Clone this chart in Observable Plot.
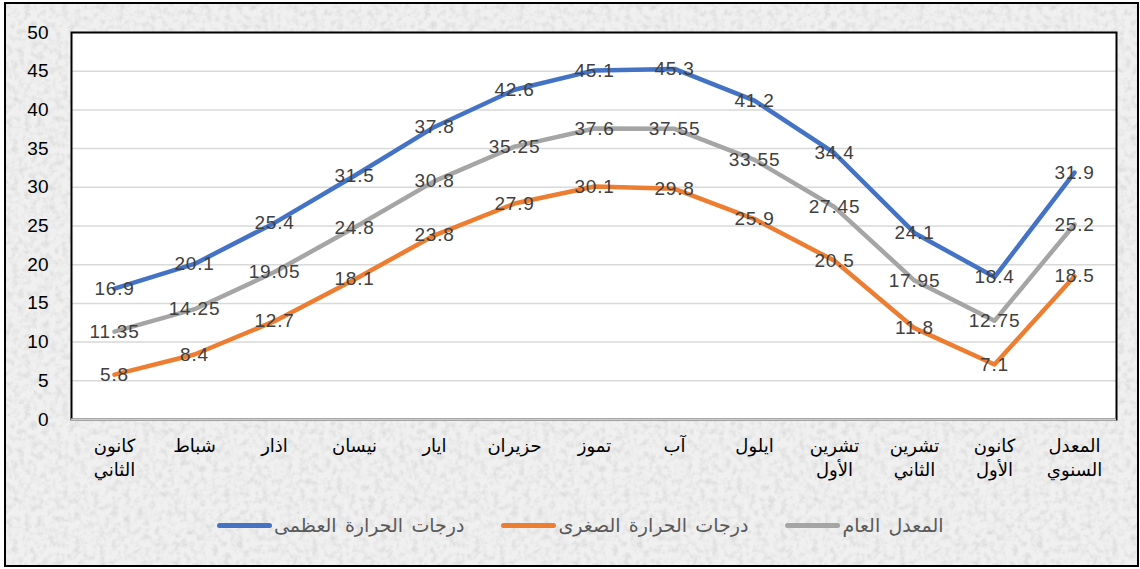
<!DOCTYPE html>
<html>
<head>
<meta charset="utf-8">
<script src="https://cdn.jsdelivr.net/npm/d3@7"></script>
<script src="https://cdn.jsdelivr.net/npm/@observablehq/plot@0.6"></script>
<style>
  html, body { margin: 0; padding: 0; background: #fff; }
  #wrap { position: relative; width: 1140px; height: 569px; overflow: hidden; }
  #box {
    position: absolute; left: 4px; top: 2px; width: 1131px; height: 561px;
    border: 2px solid #000;
    background-color: #f0f0f0;
    background-image: url("data:image/svg+xml;utf8,<svg xmlns='http://www.w3.org/2000/svg' width='400' height='400'><filter id='n'><feTurbulence type='fractalNoise' baseFrequency='0.16' numOctaves='3' seed='4'/><feColorMatrix values='0 0 0 0 0.6  0 0 0 0 0.6  0 0 0 0 0.6  1.2 0 0 0 -0.5'/></filter><rect width='100%' height='100%' filter='url(%23n)'/></svg>");
  }
  #chart { position: absolute; left: 0; top: 0; }
  #legend {
    position: absolute; left: 217px; top: 514px; width: 800px;
    display: flex; flex-direction: row; align-items: center; gap: 37px;
    font-family: "Liberation Sans", "DejaVu Sans", sans-serif; font-size: 19px; color: #595959;
  }
  .item { display: flex; align-items: center; gap: 2px; }
  .sw { width: 55px; height: 5px; border-radius: 3px; }
  .lab { direction: rtl; white-space: nowrap; word-spacing: 3px; }
  .vlab { letter-spacing: 0.8px; }
</style>
</head>
<body>
<div id="wrap">
  <div id="box"></div>
  <div id="chart"></div>
  <div id="legend"></div>
</div>
<script>
const months = ["كانون\nالثاني","شباط","اذار","نيسان","ايار","حزيران","تموز","آب","ايلول","تشرين\nالأول","تشرين\nالثاني","كانون\nالأول","المعدل\nالسنوي"];
const maxTemp = [16.9, 20.1, 25.4, 31.5, 37.8, 42.6, 45.1, 45.3, 41.2, 34.4, 24.1, 18.4, 31.9];
const minTemp = [5.8, 8.4, 12.7, 18.1, 23.8, 27.9, 30.1, 29.8, 25.9, 20.5, 11.8, 7.1, 18.5];
const meanTemp = [11.35, 14.25, 19.05, 24.8, 30.8, 35.25, 37.6, 37.55, 33.55, 27.45, 17.95, 12.75, 25.2];
const seriesNames = ["درجات الحرارة العظمى", "درجات الحرارة الصغرى", "المعدل العام"];
const seriesColors = ["#4472C4", "#ED7D31", "#A5A5A5"];
const yTicks = [0, 5, 10, 15, 20, 25, 30, 35, 40, 45, 50];

const seriesValues = [maxTemp, minTemp, meanTemp];
const rows = [];
seriesValues.forEach((vals, si) => {
  vals.forEach((v, i) => rows.push({month: months[i], value: v, series: seriesNames[si]}));
});

const chart = Plot.plot({
  width: 1140,
  height: 500,
  marginLeft: 71,
  marginRight: 24,
  marginTop: 32,
  marginBottom: 81,
  style: {background: "transparent", fontFamily: "'Liberation Sans', 'DejaVu Sans', sans-serif", overflow: "visible"},
  x: {type: "point", domain: months, padding: 0.5},
  y: {domain: [0, 50]},
  color: {domain: seriesNames, range: seriesColors},
  marks: [
    Plot.frame({fill: "white", stroke: null}),
    Plot.gridY(yTicks, {stroke: "#d9d9d9", strokeOpacity: 1, strokeWidth: 1.5}),
    Plot.frame({stroke: "#000", strokeWidth: 2, fill: null}),
    Plot.ruleY([0], {stroke: "#d0d0d0", strokeWidth: 2}),
    Plot.line(rows, {x: "month", y: "value", z: "series", stroke: "series", strokeWidth: 4.5, curve: "linear", strokeLinecap: "round", strokeLinejoin: "round"}),
    Plot.text(rows, {x: "month", y: "value", text: d => String(d.value), fill: "#404040", fontSize: 19, className: "vlab"}),
    Plot.axisY(yTicks, {tickSize: 0, tickPadding: 23, fontSize: 19, fill: "#000", label: null}),
    Plot.axisX({tickSize: 0, tickPadding: 15, fontSize: 18, fill: "#000", lineHeight: 1.35, label: null})
  ]
});
document.getElementById("chart").appendChild(chart);

const legend = document.getElementById("legend");
seriesNames.forEach((name, i) => {
  const item = document.createElement("div");
  item.className = "item";
  const sw = document.createElement("div");
  sw.className = "sw";
  sw.style.background = seriesColors[i];
  const lab = document.createElement("span");
  lab.className = "lab";
  lab.textContent = name;
  item.appendChild(sw);
  item.appendChild(lab);
  legend.appendChild(item);
});
</script>
</body>
</html>
